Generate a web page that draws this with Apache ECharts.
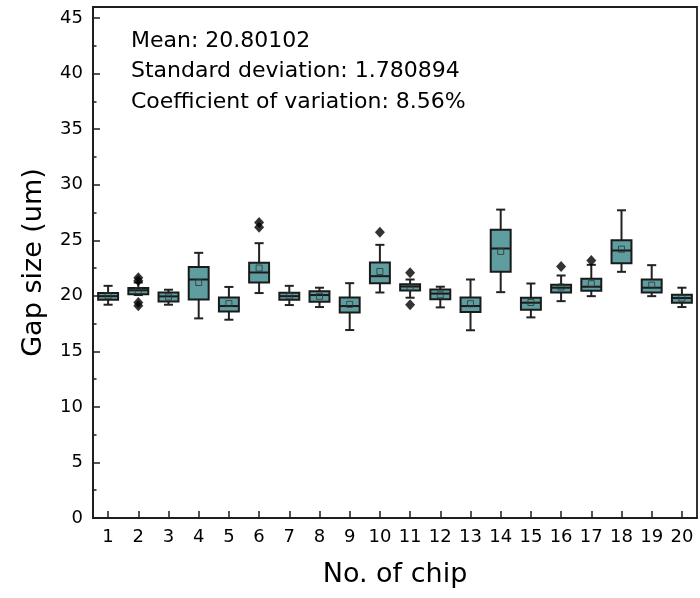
<!DOCTYPE html>
<html>
<head>
<meta charset="utf-8">
<script src="https://cdn.jsdelivr.net/npm/echarts@6/dist/echarts.min.js"></script>
<style>html,body{margin:0;padding:0;background:#fff;}#c{width:700px;height:598px;}</style>
</head>
<body>
<div id="c"></div>
<script>
const chips = ['1','2','3','4','5','6','7','8','9','10','11','12','13','14','15','16','17','18','19','20'];
const lowWhisker  = [19.20,20.07,19.20,17.97,17.85,20.25,19.17,18.99,16.92,20.30,19.83,18.96,16.90,20.33,18.06,19.52,19.97,22.16,19.97,18.99];
const q1          = [19.65,20.15,19.50,19.68,18.60,21.20,19.65,19.47,18.50,21.14,20.49,19.70,18.54,22.16,18.75,20.30,20.46,22.94,20.30,19.38];
const median      = [19.97,20.50,19.95,21.47,19.08,22.10,19.97,20.07,19.08,21.77,20.84,20.20,19.08,24.26,19.38,20.73,20.82,24.08,20.73,19.80];
const q3          = [20.25,20.70,20.30,22.60,19.86,22.97,20.28,20.42,19.86,23.00,21.05,20.58,19.86,25.94,19.83,21.00,21.53,25.00,21.47,20.10];
const highWhisker = [20.90,21.20,20.55,23.87,20.80,24.74,20.90,20.73,21.14,24.59,21.47,20.82,21.47,27.76,21.11,21.83,22.79,27.70,22.76,20.73];
const means       = [20.00,20.45,19.90,21.20,19.30,22.50,20.00,19.96,19.23,22.19,20.73,20.10,19.29,24.00,19.40,20.80,21.09,24.20,20.96,19.80];
const outlierChip  = ['2','2','2','2','6','6','10','11','11','16','17'];
const outlierValue = [21.63,21.36,19.40,19.10,26.60,26.17,25.73,22.07,19.20,22.64,23.18];
const yTicks = {min:0, max:46, interval:5};
const statsText = ['Mean: 20.80102','Standard deviation: 1.780894','Coefficient of variation: 8.56%'];

const FONT = 'DejaVu Sans';
const boxData = chips.map((c,i)=>[i, lowWhisker[i], q1[i], median[i], q3[i], highWhisker[i]]);
const meanData = chips.map((c,i)=>[c, means[i]]);
const outData = outlierChip.map((c,i)=>[c, outlierValue[i]]);

const chart = echarts.init(document.getElementById('c'), null, {renderer:'canvas'});
const LINE = '#1e1e1e';
chart.setOption({
  animation:false,
  backgroundColor:'#fff',
  grid:{left:93, right:3, top:7, bottom:80, show:true, borderColor:LINE, borderWidth:1.8, backgroundColor:'transparent'},
  xAxis:{
    type:'category', data:chips, boundaryGap:true,
    name:'No. of chip', nameLocation:'middle', nameGap:43,
    nameTextStyle:{fontFamily:FONT, fontSize:27, color:'#000'},
    axisLine:{show:true, lineStyle:{color:LINE, width:1.8}},
    axisTick:{show:true, inside:true, alignWithLabel:true, interval:0, length:7, lineStyle:{color:LINE, width:1.5}},
    axisLabel:{fontFamily:FONT, fontSize:18, color:'#000', margin:10, interval:0},
    splitLine:{show:false}
  },
  yAxis:{
    type:'value', min:yTicks.min, max:yTicks.max, interval:yTicks.interval,
    name:'Gap size (um)', nameLocation:'middle', nameGap:46, nameRotate:90,
    nameTextStyle:{fontFamily:FONT, fontSize:27, color:'#000'},
    axisLine:{show:true, lineStyle:{color:LINE, width:1.8}},
    axisTick:{show:true, inside:true, length:7, lineStyle:{color:LINE, width:1.5}},
    minorTick:{show:true, splitNumber:2, length:3.5, lineStyle:{color:LINE, width:1.5}},
    axisLabel:{fontFamily:FONT, fontSize:18, color:'#000', margin:10, showMaxLabel:false},
    splitLine:{show:false}
  },
  graphic: statsText.map((t,i)=>({
    type:'text', left:131, top:30 + i*30.5, z:100,
    style:{text:t, fontFamily:FONT, fontSize:22, fill:'#000'}
  })),
  series:[
    {
      type:'custom', data:boxData, z:2,
      encode:{x:0, y:[1,2,3,4,5]},
      renderItem:function(params, api){
        const idx = api.value(0);
        const lo = api.coord([idx, api.value(1)]);
        const a = api.coord([idx, api.value(2)]);
        const m = api.coord([idx, api.value(3)]);
        const b = api.coord([idx, api.value(4)]);
        const hi = api.coord([idx, api.value(5)]);
        const band = api.size([1,0])[0];
        const bw = band*0.66, cw = band*0.3;
        const cx = lo[0];
        const ls = {stroke:'#222', lineWidth:2};
        return {type:'group', children:[
          {type:'line', shape:{x1:cx,y1:hi[1],x2:cx,y2:b[1]}, style:ls},
          {type:'line', shape:{x1:cx,y1:a[1],x2:cx,y2:lo[1]}, style:ls},
          {type:'line', shape:{x1:cx-cw/2,y1:hi[1],x2:cx+cw/2,y2:hi[1]}, style:ls},
          {type:'line', shape:{x1:cx-cw/2,y1:lo[1],x2:cx+cw/2,y2:lo[1]}, style:ls},
          {type:'rect', shape:{x:cx-bw/2, y:b[1], width:bw, height:a[1]-b[1]}, style:{fill:'#5F9EA0', stroke:'#1a1a1a', lineWidth:2}},
          {type:'line', shape:{x1:cx-bw/2,y1:m[1],x2:cx+bw/2,y2:m[1]}, style:{stroke:'#1a1a1a', lineWidth:2}}
        ]};
      }
    },
    {
      type:'scatter', data:meanData, z:3, symbol:'rect', symbolSize:6,
      itemStyle:{color:'rgba(0,0,0,0)', borderColor:'#333', borderWidth:1}
    },
    {
      type:'scatter', data:outData, z:3, symbol:'diamond', symbolSize:[10,11],
      itemStyle:{color:'#000'}
    }
  ]
});
</script>
</body>
</html>
